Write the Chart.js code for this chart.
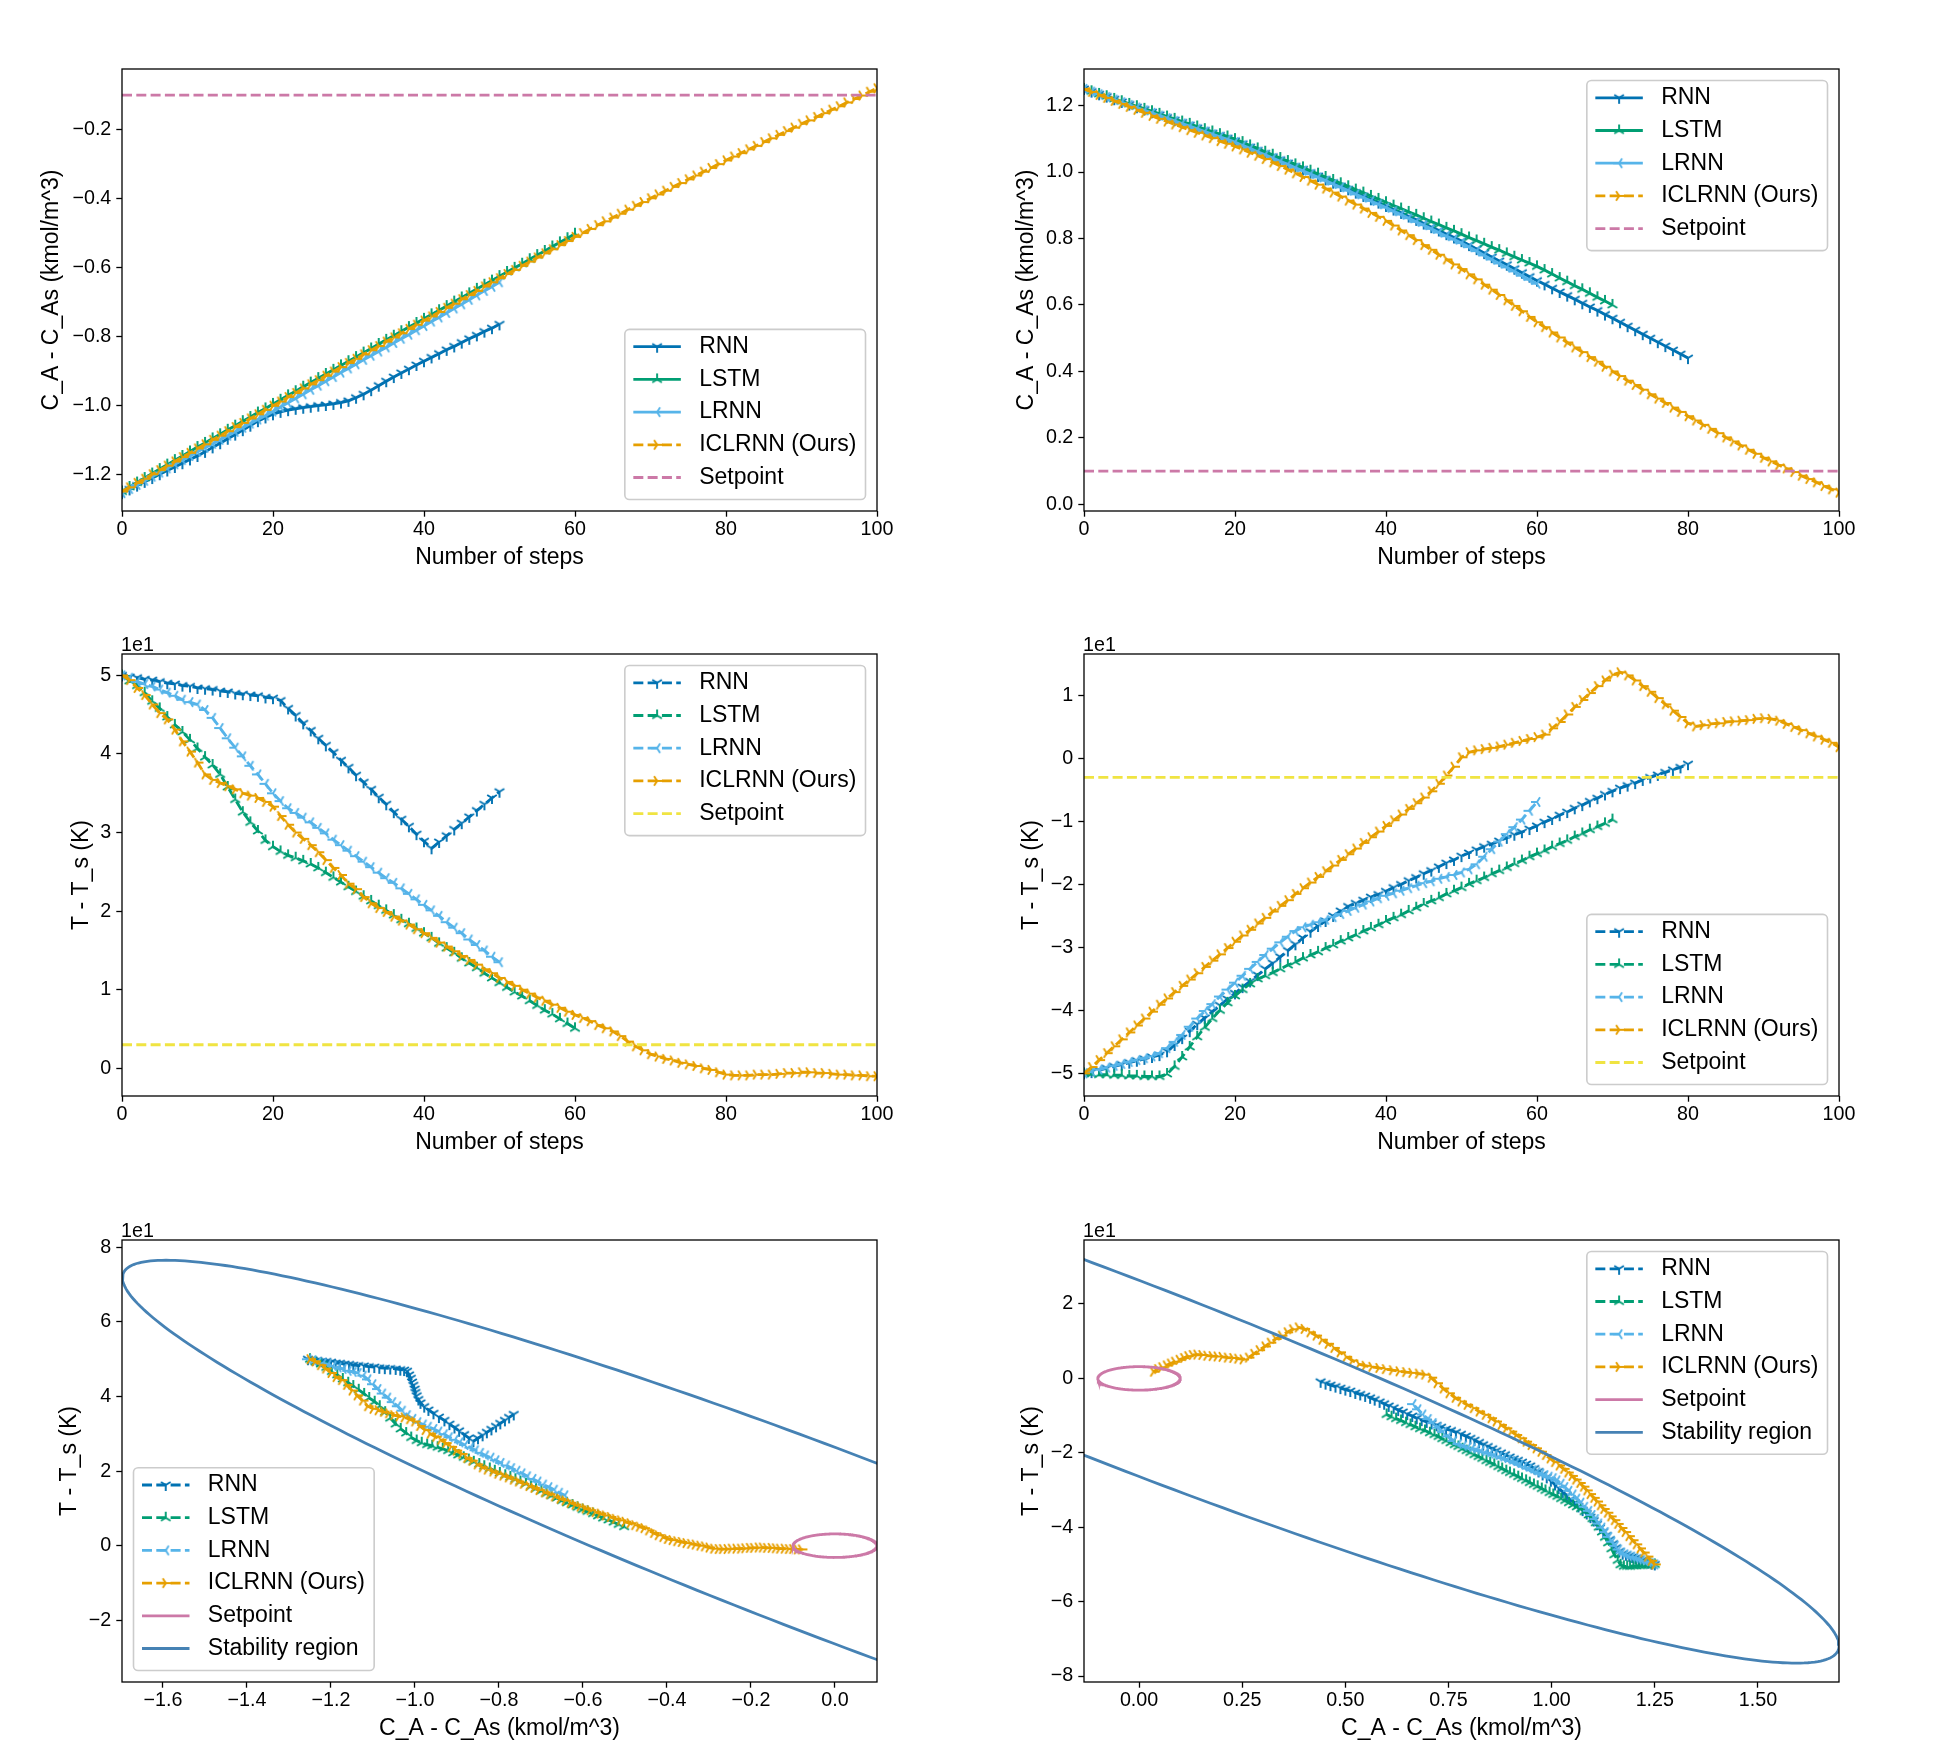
<!DOCTYPE html>
<html>
<head>
<meta charset="utf-8">
<script src="https://cdn.jsdelivr.net/npm/chart.js@4.4.1/dist/chart.umd.min.js"></script>
<style>
  html, body { margin: 0; padding: 0; background: #fff; overflow: hidden; }
  #fig { position: relative; width: 1937px; height: 1754px; background: #fff; }
  #fig canvas { position: absolute; }
</style>
</head>
<body>
<div id="fig">
  <canvas id="c0"></canvas><canvas id="c1"></canvas>
  <canvas id="c2"></canvas><canvas id="c3"></canvas>
  <canvas id="c4"></canvas><canvas id="c5"></canvas>
</div>
<script>
// ---- concentration, left case (C_A - C_As), one value per step ----
const caLeftRnn = [
  -1.255,-1.244,-1.233,-1.222,-1.211,-1.200,-1.189,-1.179,-1.168,-1.157,
  -1.147,-1.135,-1.122,-1.110,-1.097,-1.085,-1.072,-1.059,-1.046,-1.035,
  -1.026,-1.019,-1.014,-1.010,-1.007,-1.004,-1.001,-0.999,-0.996,-0.992,
  -0.987,-0.978,-0.968,-0.956,-0.943,-0.930,-0.918,-0.906,-0.895,-0.883,
  -0.872,-0.861,-0.850,-0.839,-0.829,-0.818,-0.807,-0.797,-0.786,-0.776,
  -0.765];
const caLeftLstm = [
  -1.250,-1.237,-1.224,-1.211,-1.198,-1.185,-1.172,-1.159,-1.147,-1.134,
  -1.121,-1.109,-1.096,-1.084,-1.071,-1.059,-1.046,-1.034,-1.021,-1.009,
  -0.996,-0.984,-0.971,-0.959,-0.946,-0.934,-0.921,-0.909,-0.897,-0.884,
  -0.872,-0.860,-0.847,-0.835,-0.822,-0.810,-0.798,-0.785,-0.773,-0.761,
  -0.749,-0.736,-0.724,-0.712,-0.699,-0.687,-0.675,-0.662,-0.650,-0.638,
  -0.625,-0.613,-0.601,-0.589,-0.576,-0.564,-0.552,-0.539,-0.527,-0.515,
  -0.502];
const caLeftLrnn = [
  -1.255,-1.243,-1.231,-1.219,-1.207,-1.195,-1.183,-1.171,-1.159,-1.147,
  -1.135,-1.123,-1.112,-1.100,-1.088,-1.077,-1.065,-1.053,-1.041,-1.030,
  -1.018,-1.005,-0.993,-0.980,-0.968,-0.955,-0.943,-0.930,-0.918,-0.905,
  -0.893,-0.881,-0.868,-0.856,-0.844,-0.832,-0.819,-0.807,-0.795,-0.782,
  -0.770,-0.757,-0.745,-0.732,-0.719,-0.707,-0.694,-0.681,-0.668,-0.656,
  -0.643];
const caLeftIclrnn = [
  -1.250,-1.238,-1.225,-1.213,-1.200,-1.188,-1.175,-1.163,-1.150,-1.138,
  -1.125,-1.113,-1.100,-1.088,-1.075,-1.063,-1.051,-1.038,-1.026,-1.013,
  -1.001,-0.989,-0.976,-0.964,-0.951,-0.939,-0.927,-0.914,-0.902,-0.889,
  -0.877,-0.865,-0.852,-0.840,-0.828,-0.815,-0.803,-0.791,-0.778,-0.766,
  -0.754,-0.742,-0.729,-0.717,-0.705,-0.692,-0.680,-0.668,-0.655,-0.643,
  -0.631,-0.619,-0.607,-0.595,-0.583,-0.571,-0.559,-0.547,-0.535,-0.523,
  -0.511,-0.500,-0.488,-0.477,-0.466,-0.455,-0.444,-0.432,-0.421,-0.410,
  -0.399,-0.388,-0.377,-0.366,-0.355,-0.344,-0.333,-0.322,-0.311,-0.300,
  -0.289,-0.278,-0.268,-0.257,-0.247,-0.236,-0.225,-0.215,-0.204,-0.194,
  -0.183,-0.173,-0.163,-0.152,-0.142,-0.132,-0.121,-0.111,-0.101,-0.090,
  -0.080];

// ---- concentration, right case ----
const caRightRnn = [
  1.250,1.242,1.234,1.227,1.219,1.211,1.203,1.195,1.188,1.180,
  1.172,1.164,1.156,1.149,1.141,1.133,1.125,1.117,1.110,1.102,
  1.094,1.085,1.075,1.065,1.056,1.046,1.037,1.027,1.017,1.008,
  0.998,0.988,0.978,0.968,0.958,0.948,0.938,0.928,0.918,0.908,
  0.898,0.887,0.877,0.866,0.856,0.845,0.834,0.824,0.813,0.803,
  0.792,0.780,0.768,0.756,0.744,0.732,0.721,0.709,0.697,0.685,
  0.673,0.662,0.650,0.639,0.628,0.617,0.605,0.594,0.583,0.571,
  0.560,0.548,0.536,0.524,0.512,0.500,0.488,0.476,0.464,0.452,
  0.440];
const caRightLstm = [
  1.250,1.243,1.235,1.228,1.220,1.213,1.205,1.198,1.190,1.183,
  1.175,1.167,1.160,1.152,1.145,1.137,1.129,1.122,1.114,1.107,
  1.099,1.090,1.080,1.071,1.061,1.052,1.042,1.033,1.023,1.014,
  1.004,0.995,0.985,0.976,0.966,0.957,0.947,0.938,0.928,0.919,
  0.909,0.899,0.890,0.880,0.871,0.861,0.851,0.842,0.832,0.823,
  0.813,0.803,0.794,0.784,0.774,0.765,0.755,0.745,0.735,0.726,
  0.716,0.705,0.693,0.681,0.670,0.658,0.647,0.635,0.623,0.612,
  0.600];
const caRightLrnn = [
  1.250,1.242,1.234,1.226,1.218,1.210,1.202,1.194,1.186,1.178,
  1.170,1.162,1.154,1.146,1.138,1.130,1.122,1.114,1.106,1.098,
  1.090,1.080,1.071,1.061,1.052,1.042,1.032,1.023,1.013,1.004,
  0.994,0.984,0.974,0.964,0.954,0.944,0.933,0.923,0.913,0.903,
  0.893,0.882,0.872,0.861,0.850,0.840,0.829,0.818,0.807,0.797,
  0.786,0.774,0.762,0.749,0.737,0.725,0.713,0.701,0.688,0.676,
  0.664];
const caRightIclrnn = [
  1.250,1.241,1.232,1.223,1.214,1.205,1.196,1.187,1.178,1.169,
  1.160,1.152,1.143,1.135,1.126,1.118,1.110,1.102,1.093,1.085,
  1.077,1.068,1.058,1.049,1.039,1.029,1.018,1.007,0.996,0.985,
  0.974,0.962,0.950,0.938,0.926,0.914,0.902,0.890,0.877,0.865,
  0.853,0.839,0.824,0.810,0.795,0.780,0.766,0.751,0.737,0.722,
  0.708,0.692,0.677,0.661,0.646,0.630,0.614,0.597,0.581,0.564,
  0.548,0.533,0.517,0.502,0.487,0.472,0.458,0.443,0.429,0.414,
  0.400,0.386,0.372,0.359,0.345,0.331,0.318,0.305,0.291,0.278,
  0.265,0.252,0.239,0.227,0.214,0.201,0.189,0.177,0.164,0.152,
  0.140,0.129,0.118,0.108,0.097,0.086,0.076,0.066,0.055,0.045,
  0.035];

// ---- temperature, left case (T - T_s, K) ----
const tLeftRnn = [
  50.0,49.8,49.7,49.5,49.4,49.2,49.0,48.9,48.7,48.6,
  48.4,48.3,48.2,48.0,47.9,47.7,47.6,47.5,47.4,47.2,
  47.1,46.8,45.8,44.9,43.9,43.0,42.0,41.1,40.2,39.2,
  38.3,37.3,36.4,35.5,34.5,33.6,32.6,31.7,30.8,29.8,
  28.9,28.0,28.8,29.6,30.4,31.2,32.0,32.8,33.6,34.4,
  35.2];
const tLeftLstm = [
  50.0,49.3,48.7,47.8,46.7,45.8,44.7,43.7,42.8,41.8,
  40.7,39.6,38.6,37.4,35.8,34.2,32.6,31.3,30.2,29.0,
  28.2,27.6,27.1,26.8,26.4,26.0,25.5,24.9,24.3,23.7,
  23.1,22.5,21.9,21.3,20.7,20.1,19.5,18.9,18.4,17.8,
  17.2,16.6,15.9,15.3,14.7,14.0,13.4,12.8,12.1,11.5,
  10.9,10.3,9.7,9.2,8.6,8.0,7.4,6.9,6.3,5.7,
  5.1];
const tLeftLrnn = [
  50.0,49.7,49.2,48.9,48.6,48.2,47.8,47.4,46.9,46.6,
  46.3,45.6,44.6,43.3,42.0,40.8,39.7,38.5,37.4,36.2,
  35.0,34.0,33.1,32.5,31.9,31.3,30.6,29.9,29.1,28.4,
  27.7,27.0,26.3,25.6,24.9,24.2,23.6,22.9,22.2,21.5,
  20.8,20.1,19.4,18.6,17.9,17.2,16.4,15.7,15.0,14.2,
  13.5];
const tLeftIclrnn = [
  50.0,49.4,48.4,47.5,46.3,45.2,44.4,43.1,41.6,40.3,
  38.9,37.4,36.7,36.3,35.9,35.5,35.0,34.7,34.4,33.9,
  33.3,32.1,31.0,30.0,29.2,28.4,27.5,26.5,25.5,24.6,
  23.5,22.8,21.8,21.0,20.4,19.9,19.3,18.8,18.3,17.7,
  17.2,16.6,16.0,15.5,14.9,14.3,13.8,13.2,12.6,12.1,
  11.5,11.0,10.5,10.0,9.5,9.0,8.6,8.1,7.7,7.2,
  6.8,6.4,6.0,5.5,5.1,4.7,4.1,3.4,2.8,2.3,
  1.8,1.5,1.2,1.0,0.7,0.5,0.3,0.0,-0.2,-0.5,
  -0.8,-0.9,-0.9,-0.9,-0.8,-0.8,-0.8,-0.7,-0.6,-0.6,
  -0.5,-0.5,-0.6,-0.6,-0.7,-0.8,-0.8,-0.9,-0.9,-1.0,
  -1.0];

// ---- temperature, right case ----
const tRightRnn = [
  -50.0,-49.8,-49.5,-49.2,-48.9,-48.6,-48.3,-48.0,-47.7,-47.4,
  -47.1,-46.5,-45.5,-44.4,-43.3,-42.2,-41.2,-40.2,-39.2,-38.2,
  -37.3,-36.3,-35.4,-34.4,-33.4,-32.5,-31.5,-30.5,-29.5,-28.5,
  -27.5,-26.6,-25.8,-25.0,-24.2,-23.5,-23.0,-22.5,-22.0,-21.6,
  -21.1,-20.5,-20.0,-19.4,-18.9,-18.3,-17.8,-17.2,-16.6,-16.1,
  -15.5,-15.0,-14.5,-14.0,-13.6,-13.1,-12.6,-12.1,-11.7,-11.2,
  -10.7,-10.1,-9.6,-9.0,-8.5,-7.9,-7.4,-6.8,-6.3,-5.7,
  -5.2,-4.7,-4.3,-3.9,-3.4,-3.0,-2.6,-2.2,-1.8,-1.4,
  -0.9];
const tRightLstm = [
  -50.0,-50.1,-50.2,-50.2,-50.3,-50.3,-50.4,-50.4,-50.5,-50.5,
  -50.5,-50.1,-48.9,-47.4,-45.8,-44.2,-42.7,-41.3,-40.0,-38.8,
  -37.7,-36.7,-35.8,-35.0,-34.5,-34.0,-33.4,-32.8,-32.3,-31.7,
  -31.2,-30.7,-30.1,-29.6,-29.0,-28.5,-28.0,-27.4,-26.9,-26.4,
  -25.8,-25.3,-24.8,-24.2,-23.7,-23.1,-22.6,-22.1,-21.5,-21.0,
  -20.5,-19.9,-19.4,-18.9,-18.3,-17.8,-17.3,-16.7,-16.2,-15.6,
  -15.1,-14.6,-14.0,-13.5,-13.0,-12.4,-11.9,-11.3,-10.8,-10.3,
  -9.7];
const tRightLrnn = [
  -50.0,-49.7,-49.4,-49.1,-48.8,-48.5,-48.2,-47.9,-47.6,-47.3,
  -46.8,-46.0,-45.0,-43.9,-42.6,-41.3,-40.1,-39.0,-37.8,-36.7,
  -35.6,-34.5,-33.4,-32.3,-31.2,-30.2,-29.2,-28.3,-27.4,-26.8,
  -26.4,-26.0,-25.6,-25.2,-24.7,-24.2,-23.7,-23.2,-22.7,-22.2,
  -21.8,-21.4,-21.0,-20.6,-20.2,-19.8,-19.5,-19.1,-18.8,-18.5,
  -18.1,-17.6,-16.8,-15.6,-14.4,-13.2,-12.0,-10.9,-9.7,-8.3,
  -6.9];
const tRightIclrnn = [
  -50.0,-49.0,-47.9,-46.8,-45.7,-44.6,-43.5,-42.4,-41.3,-40.2,
  -39.1,-38.1,-37.1,-36.1,-35.1,-34.1,-33.1,-32.1,-31.1,-30.1,
  -29.1,-28.1,-27.2,-26.2,-25.3,-24.3,-23.4,-22.5,-21.5,-20.6,
  -19.7,-18.8,-17.9,-17.0,-16.1,-15.2,-14.3,-13.4,-12.5,-11.6,
  -10.7,-9.8,-8.9,-8.0,-7.1,-6.2,-5.2,-4.0,-2.7,-1.3,
  0.2,1.0,1.3,1.5,1.7,1.9,2.2,2.5,2.8,3.1,
  3.4,3.8,4.8,5.8,7.0,8.2,9.3,10.4,11.5,12.4,
  13.3,13.7,13.2,12.4,11.5,10.6,9.6,8.6,7.6,6.6,
  5.6,5.1,5.3,5.5,5.6,5.8,5.9,6.0,6.1,6.3,
  6.4,6.3,6.0,5.5,5.0,4.5,4.0,3.5,3.0,2.5,
  1.8];

// setpoints
const caSetLeft = -0.1, caSetRight = 0.1;
const tSetLeft = 3, tSetRight = -3;
// setpoint region (ellipse semi-axes) and stability region x'Px = level
const setRadiusCa = 0.1, setRadiusT = 3.16;
const stabP = [2035, 42.35, 1];
const stabLevel = 695;

// tick values and labels
const stepTicks = [0, 20, 40, 60, 80, 100];
const stepTickLabels = ['0', '20', '40', '60', '80', '100'];
const caLeftTicks = [-1.2, -1.0, -0.8, -0.6, -0.4, -0.2];
const caLeftTickLabels = ['\u22121.2', '\u22121.0', '\u22120.8', '\u22120.6', '\u22120.4', '\u22120.2'];
const caRightTicks = [0, 0.2, 0.4, 0.6, 0.8, 1.0, 1.2];
const caRightTickLabels = ['0.0', '0.2', '0.4', '0.6', '0.8', '1.0', '1.2'];
const tLeftTicks = [0, 10, 20, 30, 40, 50];
const tLeftTickLabels = ['0', '1', '2', '3', '4', '5'];
const tRightTicks = [-50, -40, -30, -20, -10, 0, 10];
const tRightTickLabels = ['\u22125', '\u22124', '\u22123', '\u22122', '\u22121', '0', '1'];
const phaseLeftXTicks = [-1.6, -1.4, -1.2, -1.0, -0.8, -0.6, -0.4, -0.2, 0.0];
const phaseLeftXTickLabels = ['\u22121.6', '\u22121.4', '\u22121.2', '\u22121.0', '\u22120.8', '\u22120.6', '\u22120.4', '\u22120.2', '0.0'];
const phaseLeftYTicks = [-20, 0, 20, 40, 60, 80];
const phaseLeftYTickLabels = ['\u22122', '0', '2', '4', '6', '8'];
const phaseRightXTicks = [0, 0.25, 0.5, 0.75, 1.0, 1.25, 1.5];
const phaseRightXTickLabels = ['0.00', '0.25', '0.50', '0.75', '1.00', '1.25', '1.50'];
const phaseRightYTicks = [-80, -60, -40, -20, 0, 20];
const phaseRightYTickLabels = ['\u22128', '\u22126', '\u22124', '\u22122', '0', '2'];

// ---- styling ----
const FONT = '"Liberation Sans", Arial, sans-serif';
const LINE_W = 2.8;
const DASH = [10, 4.3];
const AX_W = 755, AX_H = 442;
const PAD_L = 130, PAD_T = 40, PAD_R = 45, PAD_B = 70;
const COL = {
  rnn: '#0072b2', lstm: '#009e73', lrnn: '#56b4e9', iclrnn: '#e69f00',
  pink: '#cc79a7', yellow: '#f0e442', stab: '#4682b4'
};

// matplotlib-like tri markers ('1','2','3','4')
function triMarker(kind, color) {
  const r = 6, s = 18, c = s / 2;
  const cv = document.createElement('canvas');
  cv.width = s; cv.height = s;
  const g = cv.getContext('2d');
  g.strokeStyle = color;
  g.lineWidth = 1.9;
  g.lineCap = 'butt';
  const arms = {
    down: [[0, 1], [0.8, -0.5], [-0.8, -0.5]],
    up: [[0, -1], [0.8, 0.5], [-0.8, 0.5]],
    left: [[-1, 0], [0.5, 0.8], [0.5, -0.8]],
    right: [[1, 0], [-0.5, 0.8], [-0.5, -0.8]]
  }[kind];
  g.beginPath();
  arms.forEach(([dx, dy]) => { g.moveTo(c, c); g.lineTo(c + dx * r, c + dy * r); });
  g.stroke();
  return cv;
}

const MODELS = [
  { label: 'RNN', color: COL.rnn, marker: triMarker('down', COL.rnn) },
  { label: 'LSTM', color: COL.lstm, marker: triMarker('up', COL.lstm) },
  { label: 'LRNN', color: COL.lrnn, marker: triMarker('left', COL.lrnn) },
  { label: 'ICLRNN (Ours)', color: COL.iclrnn, marker: triMarker('right', COL.iclrnn) }
];

function stepPoints(arr) { return arr.map((v, i) => ({ x: i, y: v })); }
function phasePoints(ca, t) { return ca.map((v, i) => ({ x: v, y: t[i] })); }

function stabilityPoints() {
  const [a, b, c] = stabP;
  const sa = Math.sqrt(a), s2 = Math.sqrt(c - b * b / a), rk = Math.sqrt(stabLevel);
  const pts = [];
  for (let d = 0; d <= 360; d++) {
    const t = d * Math.PI / 180;
    const y = rk * Math.sin(t) / s2;
    const x = (rk * Math.cos(t) - (b / sa) * y) / sa;
    pts.push({ x, y });
  }
  return pts;
}
function setpointPoints() {
  const pts = [];
  for (let d = 0; d <= 360; d++) {
    const t = d * Math.PI / 180;
    pts.push({ x: setRadiusCa * Math.cos(t), y: setRadiusT * Math.sin(t) });
  }
  return pts;
}

function series(items) {
  return items.map((it, i) => ({
    label: it.label,
    data: it.data,
    borderColor: it.color,
    backgroundColor: it.color,
    borderWidth: LINE_W,
    borderDash: it.dash ? DASH : [],
    pointStyle: it.marker || 'circle',
    pointRadius: it.marker ? 6 : 0,
    pointHoverRadius: it.marker ? 6 : 0,
    tension: 0,
    clip: 0,
    order: -i
  }));
}

function legendPlugin(items, where) {
  return {
    id: 'mplLegend',
    afterDraw(chart) {
      const ctx = chart.ctx, a = chart.chartArea;
      ctx.save();
      ctx.font = '23px ' + FONT;
      let tw = 0;
      items.forEach(it => { tw = Math.max(tw, ctx.measureText(it.label).width); });
      const w = 74.3 + tw + 9.2;
      const h = 17.3 + (items.length - 1) * 32.7 + 22;
      const x = where === 'll' ? a.left + 11.5 : a.right - 11.5 - w;
      const y = where === 'ur' ? a.top + 11.5 : a.bottom - 11.5 - h;
      ctx.beginPath();
      if (ctx.roundRect) ctx.roundRect(x, y, w, h, 4.6); else ctx.rect(x, y, w, h);
      ctx.fillStyle = 'rgba(255,255,255,0.8)';
      ctx.fill();
      ctx.lineWidth = 1.6;
      ctx.strokeStyle = '#cccccc';
      ctx.stroke();
      items.forEach((it, i) => {
        const cy = y + 17.3 + i * 32.7;
        ctx.beginPath();
        ctx.setLineDash(it.dash ? DASH : []);
        ctx.strokeStyle = it.color;
        ctx.lineWidth = LINE_W;
        ctx.moveTo(x + 8.5, cy);
        ctx.lineTo(x + 56, cy);
        ctx.stroke();
        ctx.setLineDash([]);
        if (it.marker) ctx.drawImage(it.marker, x + 32.25 - it.marker.width / 2, cy - it.marker.height / 2);
        ctx.fillStyle = '#000';
        ctx.textBaseline = 'middle';
        ctx.textAlign = 'left';
        ctx.fillText(it.label, x + 74.3, cy);
      });
      ctx.restore();
    }
  };
}

const framePlugin = {
  id: 'frame',
  afterDatasetsDraw(chart) {
    const ctx = chart.ctx, a = chart.chartArea;
    ctx.save();
    ctx.strokeStyle = '#000';
    ctx.lineWidth = 1.3;
    ctx.strokeRect(a.left, a.top, a.right - a.left, a.bottom - a.top);
    ctx.restore();
  }
};

function offsetTextPlugin(text) {
  return {
    id: 'offsetText',
    afterDraw(chart) {
      if (!text) return;
      const ctx = chart.ctx, a = chart.chartArea;
      ctx.save();
      ctx.font = '19.7px ' + FONT;
      ctx.fillStyle = '#000';
      ctx.textBaseline = 'alphabetic';
      ctx.textAlign = 'left';
      ctx.fillText(text, a.left - 1, a.top - 3);
      ctx.restore();
    }
  };
}

function axis(min, max, ticks, labels, title, isY, titleOff) {
  const tickFont = { family: FONT, size: 19.7 };
  return {
    type: 'linear',
    min: min, max: max,
    afterFit(s) { if (isY) s.width = PAD_L; else s.height = PAD_B; },
    afterBuildTicks(s) { s.ticks = ticks.map(v => ({ value: v })); },
    ticks: {
      autoSkip: false, maxRotation: 0, minRotation: 0,
      padding: isY ? 5 : 1.3,
      color: '#000', font: tickFont,
      callback: (v, i) => labels[i]
    },
    grid: {
      display: true, drawOnChartArea: false, drawTicks: true,
      tickLength: 5.7, tickWidth: 1.3, tickColor: '#000'
    },
    border: { display: false },
    title: {
      display: true, text: title, color: '#000',
      font: { family: FONT, size: 23 },
      padding: isY ? { top: PAD_L - titleOff - 13.8, bottom: 0 } : { top: 0, bottom: PAD_B - 47 - 13.8 }
    }
  };
}

function makePanel(p) {
  const cv = document.getElementById(p.id);
  const w = AX_W + PAD_L + PAD_R, h = AX_H + PAD_T + PAD_B;
  cv.width = w; cv.height = h;
  cv.style.width = w + 'px'; cv.style.height = h + 'px';
  cv.style.left = (p.axL - PAD_L) + 'px';
  cv.style.top = (p.axT - PAD_T) + 'px';
  return new Chart(cv.getContext('2d'), {
    type: 'line',
    data: { datasets: series(p.items) },
    options: {
      responsive: false,
      animation: false,
      events: [],
      layout: { padding: { left: 0, top: PAD_T, right: PAD_R, bottom: 0 } },
      plugins: { legend: { display: false }, tooltip: { enabled: false } },
      scales: {
        x: axis(p.x[0], p.x[1], p.xTicks, p.xLabels, p.xTitle, false, 0),
        y: axis(p.y[0], p.y[1], p.yTicks, p.yLabels, p.yTitle, true, p.yOff)
      }
    },
    plugins: [framePlugin, legendPlugin(p.items, p.legend), offsetTextPlugin(p.offset)]
  });
}

function modelItems(pointsFn, dashedAll, datasetsArrays) {
  return MODELS.map((m, i) => ({
    label: m.label, color: m.color, marker: m.marker,
    dash: dashedAll || i === 3,
    data: pointsFn(datasetsArrays[i])
  }));
}

const xStep = [0, 100];
const caTitle = 'C_A - C_As (kmol/m^3)';
const tTitle = 'T - T_s (K)';

// top left
makePanel({
  id: 'c0', axL: 122, axT: 69, x: xStep, y: [-1.3067, -0.024],
  xTicks: stepTicks, xLabels: stepTickLabels, yTicks: caLeftTicks, yLabels: caLeftTickLabels,
  xTitle: 'Number of steps', yTitle: caTitle, yOff: 70.5, legend: 'lr', offset: '',
  items: modelItems(stepPoints, false, [caLeftRnn, caLeftLstm, caLeftLrnn, caLeftIclrnn]).concat([
    { label: 'Setpoint', color: COL.pink, dash: true, data: [{ x: 0, y: caSetLeft }, { x: 100, y: caSetLeft }] }
  ])
});
// top right
makePanel({
  id: 'c1', axL: 1084, axT: 69, x: xStep, y: [-0.0202, 1.310],
  xTicks: stepTicks, xLabels: stepTickLabels, yTicks: caRightTicks, yLabels: caRightTickLabels,
  xTitle: 'Number of steps', yTitle: caTitle, yOff: 57.5, legend: 'ur', offset: '',
  items: modelItems(stepPoints, false, [caRightRnn, caRightLstm, caRightLrnn, caRightIclrnn]).concat([
    { label: 'Setpoint', color: COL.pink, dash: true, data: [{ x: 0, y: caSetRight }, { x: 100, y: caSetRight }] }
  ])
});
// middle left
makePanel({
  id: 'c2', axL: 122, axT: 654, x: xStep, y: [-3.52, 52.72],
  xTicks: stepTicks, xLabels: stepTickLabels, yTicks: tLeftTicks, yLabels: tLeftTickLabels,
  xTitle: 'Number of steps', yTitle: tTitle, yOff: 40.5, legend: 'ur', offset: '1e1',
  items: modelItems(stepPoints, true, [tLeftRnn, tLeftLstm, tLeftLrnn, tLeftIclrnn]).concat([
    { label: 'Setpoint', color: COL.yellow, dash: true, data: [{ x: 0, y: tSetLeft }, { x: 100, y: tSetLeft }] }
  ])
});
// middle right
makePanel({
  id: 'c3', axL: 1084, axT: 654, x: xStep, y: [-53.6, 16.6],
  xTicks: stepTicks, xLabels: stepTickLabels, yTicks: tRightTicks, yLabels: tRightTickLabels,
  xTitle: 'Number of steps', yTitle: tTitle, yOff: 52.5, legend: 'lr', offset: '1e1',
  items: modelItems(stepPoints, true, [tRightRnn, tRightLstm, tRightLrnn, tRightIclrnn]).concat([
    { label: 'Setpoint', color: COL.yellow, dash: true, data: [{ x: 0, y: tSetRight }, { x: 100, y: tSetRight }] }
  ])
});
// bottom left (phase plane)
const leftPairs = [[caLeftRnn, tLeftRnn], [caLeftLstm, tLeftLstm], [caLeftLrnn, tLeftLrnn], [caLeftIclrnn, tLeftIclrnn]];
makePanel({
  id: 'c4', axL: 122, axT: 1240, x: [-1.6976, 0.1], y: [-36.55, 81.96],
  xTicks: phaseLeftXTicks, xLabels: phaseLeftXTickLabels, yTicks: phaseLeftYTicks, yLabels: phaseLeftYTickLabels,
  xTitle: caTitle, yTitle: tTitle, yOff: 52.5, legend: 'll', offset: '1e1',
  items: modelItems(pr => phasePoints(pr[0], pr[1]), true, leftPairs).concat([
    { label: 'Setpoint', color: COL.pink, dash: false, data: setpointPoints() },
    { label: 'Stability region', color: COL.stab, dash: false, data: stabilityPoints() }
  ])
});
// bottom right (phase plane)
const rightPairs = [[caRightRnn, tRightRnn], [caRightLstm, tRightLstm], [caRightLrnn, tRightLrnn], [caRightIclrnn, tRightIclrnn]];
makePanel({
  id: 'c5', axL: 1084, axT: 1240, x: [-0.1334, 1.6964], y: [-81.6, 37.2],
  xTicks: phaseRightXTicks, xLabels: phaseRightXTickLabels, yTicks: phaseRightYTicks, yLabels: phaseRightYTickLabels,
  xTitle: caTitle, yTitle: tTitle, yOff: 52.5, legend: 'ur', offset: '1e1',
  items: modelItems(pr => phasePoints(pr[0], pr[1]), true, rightPairs).concat([
    { label: 'Setpoint', color: COL.pink, dash: false, data: setpointPoints() },
    { label: 'Stability region', color: COL.stab, dash: false, data: stabilityPoints() }
  ])
});
</script>
</body>
</html>
